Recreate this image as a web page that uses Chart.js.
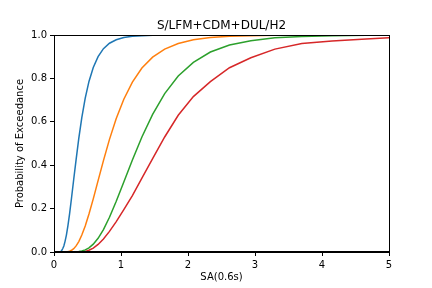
<!DOCTYPE html>
<html>
<head>
<meta charset="utf-8">
<script src="https://cdn.jsdelivr.net/npm/chart.js@4/dist/chart.umd.min.js"></script>
<style>
html,body{margin:0;padding:0;background:#fff;}
#c{display:block;}
</style>
</head>
<body>
<canvas id="c" width="432" height="288"></canvas>
<script>
const title = "S/LFM+CDM+DUL/H2";
const xLabel = "SA(0.6s)";
const yLabel = "Probability of Exceedance";
const xTicks = [0, 1, 2, 3, 4, 5];
const yTicks = [0.0, 0.2, 0.4, 0.6, 0.8, 1.0];

const sa = [0.104, 0.117, 0.131, 0.147, 0.165, 0.185, 0.208, 0.233, 0.262, 0.294, 0.330, 0.370, 0.415, 0.466, 0.522, 0.586, 0.658, 0.738, 0.828, 0.929, 1.042, 1.170, 1.312, 1.472, 1.652, 1.854, 2.080, 2.334, 2.619, 2.938, 3.297, 3.699, 4.150, 4.657, 5.225];

const ds1 = [0.004, 0.008, 0.016, 0.028, 0.049, 0.078, 0.122, 0.177, 0.250, 0.334, 0.426, 0.524, 0.619, 0.709, 0.786, 0.850, 0.900, 0.937, 0.962, 0.978, 0.988, 0.994, 0.997, 0.9986, 0.9994, 0.9998, 0.9999, 1, 1, 1, 1, 1, 1, 1, 1];
const ds2 = [0, 0, 0, 0, 0, 0.0008, 0.0019, 0.004, 0.008, 0.0155, 0.028, 0.048, 0.078, 0.120, 0.175, 0.245, 0.329, 0.421, 0.519, 0.615, 0.704, 0.783, 0.848, 0.898, 0.935, 0.961, 0.978, 0.988, 0.9937, 0.997, 0.9986, 0.9994, 0.9998, 0.9999, 1];
const ds3 = [0, 0, 0, 0, 0, 0, 0, 0, 0.0001, 0.0003, 0.0009, 0.0021, 0.0047, 0.0099, 0.0194, 0.036, 0.063, 0.103, 0.160, 0.234, 0.323, 0.424, 0.530, 0.634, 0.730, 0.811, 0.874, 0.9215, 0.954, 0.974, 0.987, 0.9935, 0.997, 0.9987, 0.9995];
const ds4 = [0, 0, 0, 0, 0, 0, 0, 0, 0, 0, 0, 0, 0.001, 0.003, 0.008, 0.018, 0.035, 0.060, 0.095, 0.140, 0.195, 0.260, 0.340, 0.430, 0.530, 0.630, 0.716, 0.785, 0.849, 0.895, 0.935, 0.961, 0.972, 0.982, 0.991];

const seriesNames = ["DS1", "DS2", "DS3", "DS4"];
const seriesVals = [ds1, ds2, ds3, ds4];
const colors = ["#1f77b4", "#ff7f0e", "#2ca02c", "#d62728"];

const FONT = "'DejaVu Sans', sans-serif";

const frame = {
  id: 'frame',
  afterDraw(chart) {
    const {ctx, chartArea: a} = chart;
    ctx.save();
    ctx.strokeStyle = '#000';
    ctx.lineWidth = 1;
    ctx.strokeRect(Math.round(a.left) + 0.5, Math.round(a.top) + 0.5, Math.round(a.right - a.left), Math.round(a.bottom - a.top) - 1);
    ctx.restore();
  }
};

new Chart(document.getElementById('c'), {
  type: 'line',
  data: {
    datasets: seriesVals.map((vals, i) => ({
      label: seriesNames[i],
      data: sa.map((x, j) => ({x: x, y: vals[j]})),
      borderColor: colors[i],
      backgroundColor: colors[i],
      borderWidth: 1.5,
      pointRadius: 0,
      tension: 0,
      fill: false
    }))
  },
  options: {
    responsive: false,
    devicePixelRatio: 1,
    animation: false,
    layout: {padding: {left: 0, right: 43, top: 0, bottom: 0}},
    plugins: {
      legend: {display: false},
      tooltip: {enabled: false},
      title: {
        display: true,
        text: title,
        fullSize: false,
        color: '#000',
        font: {family: FONT, size: 12, weight: 'normal'},
        padding: {top: 19, bottom: 1.6}
      }
    },
    scales: {
      x: {
        type: 'linear',
        min: 0, max: 5,
        afterBuildTicks: s => { s.ticks = xTicks.map(v => ({value: v})); },
        ticks: {
          color: '#000',
          font: {family: FONT, size: 10},
          padding: 3,
          maxRotation: 0,
          callback: v => String(v)
        },
        grid: {display: true, drawOnChartArea: false, drawTicks: true, tickLength: 4, color: '#000'},
        border: {display: true, color: '#000'},
        title: {display: true, text: xLabel, color: '#000', font: {family: FONT, size: 10}, padding: {top: 0, bottom: 5}},
        afterFit: s => { s.height = 36; }
      },
      y: {
        type: 'linear',
        min: 0, max: 1,
        afterBuildTicks: s => { s.ticks = yTicks.map(v => ({value: v})); },
        ticks: {
          color: '#000',
          font: {family: FONT, size: 10},
          padding: 3,
          callback: v => Number(v).toFixed(1)
        },
        grid: {display: true, drawOnChartArea: false, drawTicks: true, tickLength: 4, color: '#000'},
        border: {display: true, color: '#000'},
        title: {display: true, text: yLabel, color: '#000', font: {family: FONT, size: 10}, padding: {top: 14, bottom: 0}},
        afterFit: s => { s.width = 54; }
      }
    }
  },
  plugins: [frame]
});
</script>
</body>
</html>
